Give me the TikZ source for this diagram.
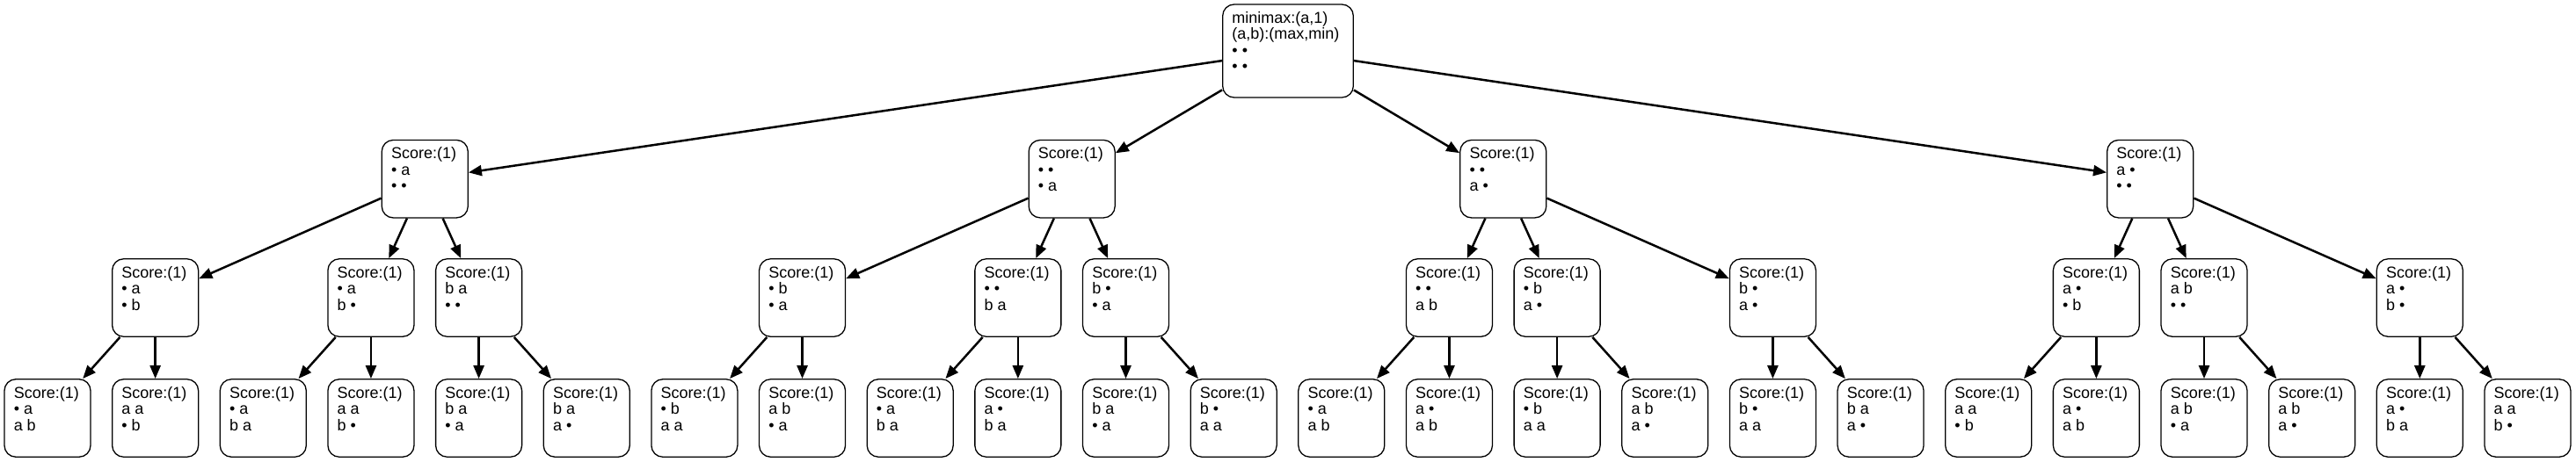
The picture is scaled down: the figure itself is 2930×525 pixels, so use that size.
\documentclass[tikz,border=0pt]{standalone}
\usepackage{fontspec}
\setmainfont{Liberation Sans}
\usetikzlibrary{arrows.meta}
\tikzset{
  box/.style={draw, line width=0.65pt, rounded corners=6.5pt, minimum width=49pt, minimum height=44.25pt, inner sep=0pt, fill=white},
  rootbox/.style={box, minimum width=74.3pt, minimum height=53pt},
  txt/.style={inner sep=0pt, align=left, anchor=north west, font=\fontsize{9pt}{9.25pt}\selectfont},
  edge/.style={line width=1.25pt, -{Triangle[length=7.5pt,width=6pt]}}
}
\newcommand\gn[5]{%
  \node[box] (#1) at ({54+122.65*#2},#3) {};
  \node[txt] (#1t) at ([xshift=5.5pt,yshift=-3.3pt]#1.north west) {\rule{0pt}{7.5pt}Score:(1)\\#4\\#5};
}
\begin{document}
\begin{tikzpicture}[x=0.5pt,y=-0.5pt]
\useasboundingbox (0,0) rectangle (2930,525);
% root
\node[rootbox] (r) at (1465,58) {};
\node[txt] (rt) at ([xshift=5.5pt,yshift=-3.3pt]r.north west) {\rule{0pt}{7.5pt}minimax:(a,1)\\(a,b):(max,min)\\• •\\• •};
% level 1
\gn{a}{3.5}{203.7}{• a}{• •}
\gn{b}{9.5}{203.7}{• •}{• a}
\gn{c}{13.5}{203.7}{• •}{a •}
\gn{d}{19.5}{203.7}{a •}{• •}
% level 2
\gn{a1}{1}{339}{• a}{• b}
\gn{a2}{3}{339}{• a}{b •}
\gn{a3}{4}{339}{b a}{• •}
\gn{b1}{7}{339}{• b}{• a}
\gn{b2}{9}{339}{• •}{b a}
\gn{b3}{10}{339}{b •}{• a}
\gn{c1}{13}{339}{• •}{a b}
\gn{c2}{14}{339}{• b}{a •}
\gn{c3}{16}{339}{b •}{a •}
\gn{d1}{19}{339}{a •}{• b}
\gn{d2}{20}{339}{a b}{• •}
\gn{d3}{22}{339}{a •}{b •}
% leaves
\gn{l0}{0}{476}{• a}{a b}
\gn{l1}{1}{476}{a a}{• b}
\gn{l2}{2}{476}{• a}{b a}
\gn{l3}{3}{476}{a a}{b •}
\gn{l4}{4}{476}{b a}{• a}
\gn{l5}{5}{476}{b a}{a •}
\gn{l6}{6}{476}{• b}{a a}
\gn{l7}{7}{476}{a b}{• a}
\gn{l8}{8}{476}{• a}{b a}
\gn{l9}{9}{476}{a •}{b a}
\gn{l10}{10}{476}{b a}{• a}
\gn{l11}{11}{476}{b •}{a a}
\gn{l12}{12}{476}{• a}{a b}
\gn{l13}{13}{476}{a •}{a b}
\gn{l14}{14}{476}{• b}{a a}
\gn{l15}{15}{476}{a b}{a •}
\gn{l16}{16}{476}{b •}{a a}
\gn{l17}{17}{476}{b a}{a •}
\gn{l18}{18}{476}{a a}{• b}
\gn{l19}{19}{476}{a •}{a b}
\gn{l20}{20}{476}{a b}{• a}
\gn{l21}{21}{476}{a b}{a •}
\gn{l22}{22}{476}{a •}{b a}
\gn{l23}{23}{476}{a a}{b •}
% edges
\foreach \p in {a,b,c,d} {\draw[edge] (r) -- (\p);}
\foreach \p/\c in {a/a1,a/a2,a/a3,b/b1,b/b2,b/b3,c/c1,c/c2,c/c3,d/d1,d/d2,d/d3} {\draw[edge] (\p) -- (\c);}
\foreach \p/\c in {a1/l0,a1/l1,a2/l2,a2/l3,a3/l4,a3/l5,b1/l6,b1/l7,b2/l8,b2/l9,b3/l10,b3/l11,c1/l12,c1/l13,c2/l14,c2/l15,c3/l16,c3/l17,d1/l18,d1/l19,d2/l20,d2/l21,d3/l22,d3/l23} {\draw[edge] (\p) -- (\c);}
\end{tikzpicture}
\end{document}
